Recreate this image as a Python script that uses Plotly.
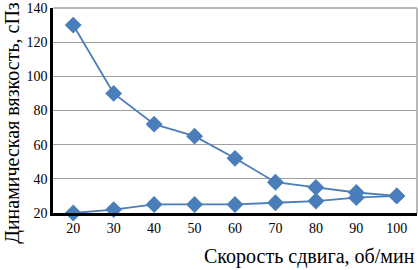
import plotly.graph_objects as go

shear_rate = ["20", "30", "40", "50", "60", "70", "80", "90", "100"]
viscosity_a = [130, 90, 72, 65, 52, 38, 35, 32, 30]
viscosity_b = [20, 22, 25, 25, 25, 26, 27, 29, 30]
y_ticks = [20, 40, 60, 80, 100, 120, 140]

color = "#4a7ebb"
font = "Liberation Serif"

fig = go.Figure()
for ys in (viscosity_a, viscosity_b):
    fig.add_trace(go.Scatter(
        x=shear_rate, y=ys, mode="lines+markers",
        line=dict(color=color, width=1.8),
        marker=dict(symbol="diamond", size=13, color=color),
        showlegend=False, cliponaxis=False,
    ))

fig.update_layout(
    width=418, height=270,
    margin=dict(l=53, r=1, t=5, b=57),
    paper_bgcolor="white", plot_bgcolor="white",
    font=dict(family=font, size=14, color="black"),
    xaxis=dict(
        type="category", range=[-0.5, 8.5],
        showline=True, linecolor="black", linewidth=2.5,
        mirror=False, showgrid=False, ticks="", ticklen=0,
        tickfont=dict(size=14),
    ),
    yaxis=dict(
        range=[20, 140], tickvals=y_ticks,
        showline=True, linecolor="black", linewidth=2.5,
        showgrid=True, gridcolor="#a0a0a0", gridwidth=1,
        ticks="", tickfont=dict(size=14), zeroline=False,
        ticklabeloverflow="allow",
    ),
    shapes=[
        dict(type="line", xref="paper", yref="paper", x0=0, x1=1, y0=1, y1=1,
             line=dict(color="#a0a0a0", width=1.5)),
        dict(type="line", xref="paper", yref="paper", x0=1, x1=1, y0=0, y1=1,
             line=dict(color="#a0a0a0", width=1.5)),
    ],
    annotations=[
        dict(text="Скорость сдвига, об/мин", xref="paper", yref="paper",
             x=0.705, y=-0.214, xanchor="center", yanchor="middle",
             showarrow=False, font=dict(size=20)),
        dict(text="Динамическая вязкость, сПз", xref="paper", yref="paper",
             x=-0.11, y=0.44, xanchor="center", yanchor="middle", textangle=-90,
             showarrow=False, font=dict(size=20)),
    ],
)

fig.write_html("out.html", config={"displayModeBar": False},
               post_script="document.body.style.margin='0';")
